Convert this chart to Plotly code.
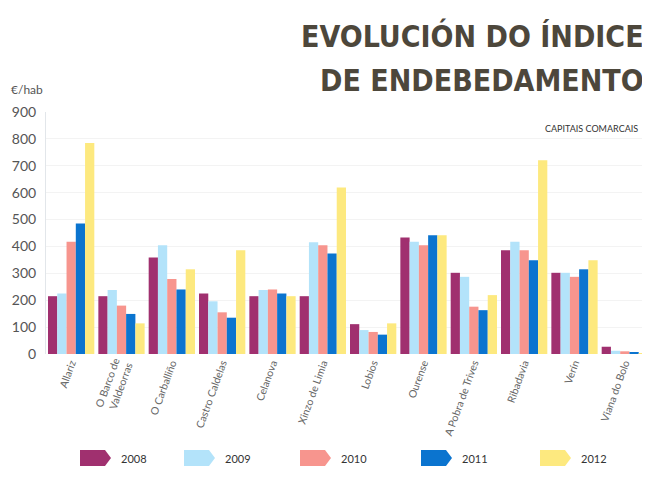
import plotly.graph_objects as go

categories = ["Allariz", "O Barco de<br>Valdeorras", "O Carballiño", "Castro Caldelas", "Celanova",
              "Xinzo de Limia", "Lobios", "Ourense", "A Pobra de Trives", "Ribadavia", "Verín",
              "Viana do Bolo"]
years = ["2008", "2009", "2010", "2011", "2012"]
v2008 = [215, 215, 359, 225, 215, 215, 111, 433, 302, 386, 302, 27]
v2009 = [225, 238, 404, 196, 238, 416, 89, 417, 287, 417, 302, 12]
v2010 = [417, 180, 279, 155, 240, 404, 82, 404, 176, 386, 287, 10]
v2011 = [485, 149, 240, 135, 225, 374, 72, 442, 163, 349, 315, 5]
v2012 = [785, 114, 315, 386, 215, 619, 114, 442, 219, 721, 349, 3]
series = [v2008, v2009, v2010, v2011, v2012]
colors = ["#a0306f", "#b3e3fa", "#f7958e", "#0b74cf", "#fde97f"]
y_ticks = [0, 100, 200, 300, 400, 500, 600, 700, 800, 900]

OFF = 8  # page body margin offset
W, H = 650 - OFF, 495 - OFF
# screen-pixel plot area
SL, SR, ST, SB = 46, 651, 112, 354
L = SL - OFF
T = ST - OFF
R = max(0, W - (SR - OFF))
B = H - (SB - OFF)
PW = W - L - R
PH = H - T - B


def px(x):
    return (x - OFF - L) / PW


def py(y):
    return (SB - y) / PH


fig = go.Figure()
for yr, vals, c in zip(years, series, colors):
    fig.add_trace(go.Bar(x=categories, y=vals, name=yr, marker=dict(color=c, line=dict(width=0)),
                         showlegend=False))

# Custom legend (arrow-shaped swatches)
leg_x = [80, 184, 300, 421, 540]
sw_w, sw_h, yc = 31, 16, 458
for yr, c, x0 in zip(years, colors, leg_x):
    x1 = x0 + sw_w
    pts = [(x0, yc - sw_h / 2), (x1 - 6, yc - sw_h / 2), (x1, yc), (x1 - 6, yc + sw_h / 2),
           (x0, yc + sw_h / 2)]
    path = "M " + " L ".join(f"{px(a):.5f},{py(b):.5f}" for a, b in pts) + " Z"
    fig.add_shape(type="path", path=path, xref="paper", yref="paper", fillcolor=c,
                  line=dict(width=0))
    fig.add_annotation(x=px(x1 + 8), y=py(yc), xref="paper", yref="paper", text=yr,
                       showarrow=False, xanchor="left", yanchor="middle",
                       font=dict(family="Lato", size=11, color="#333333"))

title_font = dict(family="'DejaVu Sans Condensed', 'Liberation Sans Narrow', 'DejaVu Sans', sans-serif",
                  size=30, color="#4d473b")
fig.add_annotation(x=px(646), y=py(36), xref="paper", yref="paper",
                   text="<b>EVOLUCIÓN DO ÍNDICE</b>", showarrow=False, xanchor="right",
                   yanchor="middle", font=title_font)
fig.add_annotation(x=px(646), y=py(80), xref="paper", yref="paper",
                   text="<b>DE ENDEBEDAMENTO</b>", showarrow=False, xanchor="right",
                   yanchor="middle", font=title_font)
fig.add_annotation(x=px(640), y=py(128), xref="paper", yref="paper", text="CAPITAIS COMARCAIS",
                   showarrow=False, xanchor="right", yanchor="middle",
                   font=dict(family="Lato", size=9, color="#333333"))
fig.add_annotation(x=px(9), y=py(89), xref="paper", yref="paper", text="€/hab",
                   showarrow=False, xanchor="left", yanchor="middle",
                   font=dict(family="Lato", size=12, color="#555555"))

fig.update_layout(
    width=W, height=H, autosize=False,
    margin=dict(l=L, r=R, t=T, b=B, pad=0),
    paper_bgcolor="white", plot_bgcolor="white",
    barmode="group", bargap=0.08, bargroupgap=0,
    font=dict(family="Lato", color="#555555"),
)
fig.update_yaxes(range=[0, 900], tickvals=y_ticks, ticktext=[str(v) for v in y_ticks],
                 showgrid=True, gridcolor="#f3f3f3", gridwidth=1, zeroline=False,
                 showline=True, linecolor="#e2e6ea", linewidth=1, ticks="",
                 tickfont=dict(family="Lato", size=14, color="#555555"), ticklabelstandoff=6)
fig.update_xaxes(tickangle=-70, showgrid=False, showline=False, ticks="",
                 tickfont=dict(family="Lato", size=10.5, color="#666666"))

fig.write_html("out.html")
